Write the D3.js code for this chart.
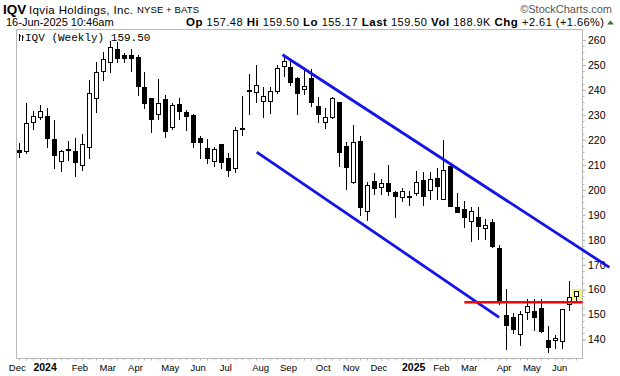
<!DOCTYPE html>
<html>
<head>
<meta charset="utf-8">
<script src="https://cdn.jsdelivr.net/npm/d3@7"></script>
<style>
  body { margin: 0; background: #fff; }
  svg { display: block; font-family: 'Liberation Sans', Arial, sans-serif; }
</style>
</head>
<body>
<div id="chart"></div>
<script>
// weekly IQV candles, Dec 4 2023 -> Jun 16 2025
const opens = [216.0, 215.7, 227.3, 229.1, 229.5, 220.3, 211.5, 216.3, 215.5, 209.9,
  217.3, 236.7, 247.5, 251.1, 256.3, 253.9, 253.9, 253.1, 241.3, 236.7,
  230.3, 236.3, 225.1, 234.3, 231.2, 230.0, 220.8, 216.8, 211.7, 218.3,
  212.8, 208.7, 224.7, 239.9, 239.0, 235.7, 235.7, 239.7, 249.5, 249.1,
  244.8, 240.5, 244.8, 233.6, 227.1, 229.1, 235.1, 217.5, 203.1, 219.6,
  191.5, 203.5, 201.3, 202.7, 199.2, 197.1, 197.6, 198.7, 203.9, 199.8,
  204.7, 196.1, 209.6, 193.1, 192.3, 187.6, 189.1, 184.7, 187.1, 176.7,
  150.0, 149.1, 142.4, 151.1, 151.3, 152.7, 140.0, 139.6, 139.2, 154.4, 157.48]
const highs = [218.7, 234.9, 231.6, 233.9, 232.7, 228.0, 215.8, 219.6, 220.8, 222.3,
  244.0, 251.2, 255.3, 259.6, 259.3, 254.7, 256.3, 254.0, 247.1, 236.9,
  244.4, 238.0, 234.9, 236.7, 232.0, 230.4, 221.7, 220.5, 217.1, 218.5,
  214.7, 225.1, 237.6, 246.4, 250.0, 241.3, 241.3, 250.0, 253.1, 252.0,
  245.3, 248.0, 248.4, 237.1, 232.7, 237.1, 235.3, 219.1, 226.0, 221.6,
  203.2, 206.7, 204.4, 210.0, 199.4, 200.9, 199.3, 207.4, 207.0, 207.3,
  208.7, 220.0, 210.2, 198.8, 195.5, 193.1, 193.1, 188.3, 188.3, 178.0,
  160.3, 150.7, 151.3, 156.3, 156.3, 156.3, 145.6, 142.0, 152.3, 163.6, 159.50]
const lows = [212.7, 214.4, 224.0, 228.0, 216.7, 208.5, 207.0, 211.7, 205.1, 207.7,
  212.5, 230.7, 243.6, 246.9, 250.7, 250.9, 247.3, 237.7, 232.4, 222.7,
  227.9, 220.9, 224.0, 228.0, 223.7, 216.7, 212.3, 210.4, 209.3, 208.5,
  205.3, 206.9, 221.6, 230.0, 234.9, 228.9, 230.4, 238.4, 245.3, 241.6,
  230.0, 238.0, 233.3, 226.7, 224.3, 228.3, 209.1, 200.0, 202.5, 189.3,
  187.3, 198.0, 198.0, 197.6, 188.5, 195.1, 193.3, 197.6, 193.6, 195.7,
  195.8, 195.7, 193.0, 190.5, 184.7, 179.2, 180.0, 180.0, 176.7, 154.0,
  135.7, 142.4, 137.3, 147.7, 143.3, 142.7, 134.7, 136.0, 136.0, 151.3, 155.17]
const closes = [214.9, 226.7, 229.5, 231.5, 220.3, 213.7, 215.5, 215.7, 210.7, 218.3,
  238.7, 247.1, 252.3, 257.1, 252.5, 252.3, 252.5, 241.3, 234.3, 227.9,
  234.7, 223.3, 233.9, 231.1, 229.3, 218.9, 218.9, 212.5, 216.4, 210.9,
  207.7, 224.0, 224.1, 239.3, 242.0, 237.5, 239.5, 248.7, 251.5, 242.9,
  238.5, 241.7, 234.7, 229.9, 229.1, 236.7, 214.7, 208.9, 219.1, 192.5,
  201.9, 200.5, 202.7, 198.9, 196.9, 199.4, 197.1, 203.1, 196.9, 204.3,
  201.0, 208.0, 193.2, 190.8, 188.6, 191.6, 185.1, 185.9, 177.1, 154.7,
  145.3, 143.7, 150.3, 153.3, 148.7, 142.9, 136.7, 140.5, 152.3, 156.89, 159.50]

const firstWeek = new Date(2023, 11, 4)
const lastWeek = new Date(2025, 5, 16)
const priceTicks = [140, 150, 160, 170, 180, 190, 200, 210, 220, 230, 240, 250, 260]
const monthNames = ['Jan', 'Feb', 'Mar', 'Apr', 'May', 'Jun', 'Jul', 'Aug', 'Sep', 'Oct', 'Nov', 'Dec']

// drawn trend lines
const upperChannel = [[new Date(2024, 7, 25), 254.1], [new Date(2025, 6, 20), 168.9]]
const lowerChannel = [[new Date(2024, 6, 30), 215.1], [new Date(2025, 2, 31), 148.9]]
const supportLevel = 154.9
const supportFrom = new Date(2025, 1, 24)

const W = 620
const H = 376
const frame = { left: 16.5, right: 582.5, top: 29.5, bottom: 358.5 }

const weeks = d3.timeMonday.range(firstWeek, d3.timeDay.offset(lastWeek, 1))
const candles = weeks.map((date, i) => ({
  date, o: opens[i], h: highs[i], l: lows[i], c: closes[i]
}))

const svg = d3.select('#chart').append('svg')
  .attr('width', W)
  .attr('height', H)

const x = d3.scaleTime()
  .domain([firstWeek, lastWeek])
  .range([19.3, 575.6])

const y = d3.scaleLinear()
  .domain([140, 260])
  .range([339.5, 40])

// header
svg.append('text')
  .attr('x', 3).attr('y', 13.5)
  .attr('font-weight', 'bold').attr('font-size', '13.5px')
  .text('IQV')
svg.append('text')
  .attr('x', 29).attr('y', 13.5)
  .attr('font-size', '11.5px')
  .attr('textLength', 104).attr('lengthAdjust', 'spacing')
  .text('Iqvia Holdings, Inc.')
svg.append('text')
  .attr('x', 137).attr('y', 13)
  .attr('font-size', '9.5px')
  .attr('textLength', 62).attr('lengthAdjust', 'spacing')
  .text('NYSE + BATS')

svg.append('text')
  .attr('x', 612).attr('y', 13)
  .attr('text-anchor', 'end')
  .attr('font-size', '11px')
  .attr('fill', '#555')
  .text('\u00a9StockCharts.com')

svg.append('text')
  .attr('x', 6).attr('y', 26)
  .attr('font-size', '11px')
  .text('16-Jun-2025 10:46am')

const quote = [['Op', '157.48'], ['Hi', '159.50'], ['Lo', '155.17'], ['Last', '159.50'],
  ['Vol', '188.9K'], ['Chg', '+2.61 (+1.66%)']]
const head2 = svg.append('text')
  .attr('x', 186).attr('y', 26)
  .attr('textLength', 418)
  .attr('lengthAdjust', 'spacing')
quote.forEach(([k, v], i) => {
  head2.append('tspan').attr('font-weight', 'bold').attr('font-size', '11.5px')
    .text((i ? ' ' : '') + k + ' ')
  head2.append('tspan').attr('font-size', '11px').text(v)
})
svg.append('path')
  .attr('d', 'M607,24.5L614,24.5L610.5,20.5Z')
  .attr('fill', '#2a7a2a')

// frame
const g = svg.append('g')
g.append('path')
  .attr('d', `M${frame.left},${frame.bottom}V${frame.top}H${frame.right}V${frame.bottom}H${frame.left}`)
  .attr('fill', 'none')
  .attr('stroke', '#b8b8b8')

// legend
const icon = g.append('g').attr('transform', 'translate(18,34)')
icon.append('path').attr('d', 'M1.5,0V7M4.5,1V7M1,2H3M4,3H6').attr('stroke', '#000')
g.append('text')
  .attr('x', 25).attr('y', 41)
  .attr('font-family', "'Liberation Mono', 'DejaVu Sans Mono', monospace")
  .attr('font-size', '11px')
  .text('IQV (Weekly) 159.50')

// right axis
const minor = d3.range(140, 260.1, 2.5)
g.append('g').selectAll('line').data(minor).join('line')
  .attr('x1', frame.right).attr('x2', frame.right + 2)
  .attr('y1', d => Math.round(y(d)) + 0.5).attr('y2', d => Math.round(y(d)) + 0.5)
  .attr('stroke', '#b8b8b8')

const yAxis = g.append('g')
  .attr('transform', `translate(${frame.right - 0.5},0)`)
  .call(d3.axisRight(y).tickValues(priceTicks).tickSize(4).tickPadding(2))
yAxis.select('.domain').remove()
yAxis.selectAll('line').attr('stroke', '#b8b8b8')
yAxis.selectAll('text')
  .attr('font-family', "'Liberation Sans', Arial, sans-serif")
  .attr('font-size', '10.5px')
  .attr('fill', '#000')

// bottom axis ticks & month labels
g.append('g').selectAll('line').data(weeks).join('line')
  .attr('x1', d => Math.round(x(d)) + 0.5).attr('x2', d => Math.round(x(d)) + 0.5)
  .attr('y1', frame.bottom).attr('y2', frame.bottom + 2)
  .attr('stroke', '#b8b8b8')

const monthStarts = weeks.filter(d => d.getDate() <= 7)
g.append('g').selectAll('text').data(monthStarts).join('text')
  .attr('x', d => x(d) - 2)
  .attr('y', 371)
  .attr('text-anchor', 'middle')
  .attr('font-size', d => d.getMonth() === 0 ? '10.5px' : '9.5px')
  .attr('font-weight', d => d.getMonth() === 0 ? 'bold' : 'normal')
  .text(d => d.getMonth() === 0 ? d.getFullYear() : monthNames[d.getMonth()])

// highlight on the current bar
const last = candles[candles.length - 1]
g.append('rect')
  .attr('x', Math.round(x(last.date)) - 4)
  .attr('y', Math.round(y(last.c)) - 2)
  .attr('width', 10)
  .attr('height', Math.round(y(last.o)) - Math.round(y(last.c)) + 6)
  .attr('fill', '#f5f57a')

// candles
const bars = g.append('g').selectAll('g').data(candles).join('g')
bars.append('line')
  .attr('x1', d => Math.round(x(d.date)) + 0.5)
  .attr('x2', d => Math.round(x(d.date)) + 0.5)
  .attr('y1', d => Math.round(y(d.h)))
  .attr('y2', d => Math.round(y(d.l)))
  .attr('stroke', '#000')
bars.filter(d => d.c < d.o).append('rect')
  .attr('x', d => Math.round(x(d.date)) - 2)
  .attr('y', d => Math.round(y(d.o)))
  .attr('width', 5)
  .attr('height', d => Math.max(2, Math.round(y(d.c)) - Math.round(y(d.o))))
  .attr('fill', '#000')
bars.filter(d => d.c >= d.o).append('rect')
  .attr('x', d => Math.round(x(d.date)) - 1.5)
  .attr('y', d => Math.round(y(d.c)) + 0.5)
  .attr('width', 4)
  .attr('height', d => Math.max(1, Math.round(y(d.o)) - Math.round(y(d.c))))
  .attr('fill', '#fff')
  .attr('stroke', '#000')

// trend lines
const line = d3.line().x(d => x(d[0])).y(d => y(d[1]))
g.append('path').datum(upperChannel).attr('d', line)
  .attr('stroke', '#1414e6').attr('stroke-width', 2.8).attr('fill', 'none')
g.append('path').datum(lowerChannel).attr('d', line)
  .attr('stroke', '#1414e6').attr('stroke-width', 2.8).attr('fill', 'none')
g.append('line')
  .attr('x1', x(supportFrom)).attr('x2', frame.right)
  .attr('y1', y(supportLevel)).attr('y2', y(supportLevel))
  .attr('stroke', '#ff0000').attr('stroke-width', 2.6)
</script>
</body>
</html>
